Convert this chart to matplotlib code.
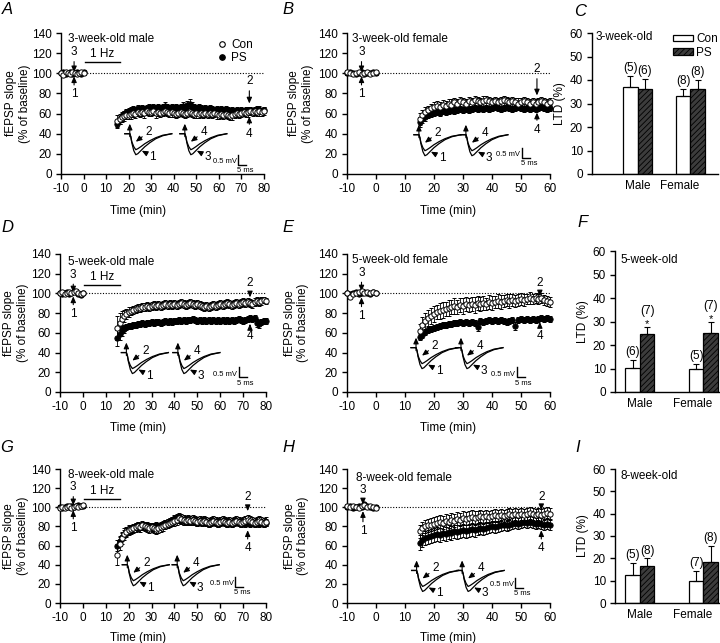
import matplotlib.pyplot as plt
from matplotlib.patches import Patch
from matplotlib.lines import Line2D

plt.rcParams['font.family'] = ['Liberation Sans', 'DejaVu Sans']
plt.rcParams['hatch.linewidth'] = 0.6
plt.rcParams['axes.unicode_minus'] = False

W, H = 720, 643

# time points (min)
t_base = list(range(-10, 1))
t_post80 = list(range(15, 81))
t_post60 = list(range(15, 61))
base_sem = [2, 1, 2, 1, 1, 2, 1, 2, 1, 1, 2]

# A: 3-week-old male
A_con_base = [100, 98, 101, 100, 99, 101, 100, 99, 100, 101, 100]
A_ps_base = [100, 101, 99, 100, 101, 99, 100, 101, 100, 99, 101]
A_con = [53, 55, 57, 58, 59, 59, 60, 61, 60, 62,
         61, 62, 61, 63, 62, 62, 63, 61, 62, 61,
         62, 63, 62, 61, 62, 61, 60, 61, 62, 61,
         60, 61, 62, 61, 60, 61, 60, 61, 60, 61,
         60, 61, 60, 61, 60, 59, 60, 59, 60, 59,
         58, 59, 60, 61, 60, 61, 62, 61, 62, 63,
         62, 63, 62, 63, 62, 63]
A_ps = [50, 54, 58, 60, 62, 63, 64, 65, 64, 66,
        65, 66, 65, 66, 67, 66, 67, 66, 67, 66,
        67, 68, 67, 66, 67, 66, 67, 66, 67, 68,
        67, 69, 70, 68, 67, 66, 67, 66, 65, 66,
        65, 66, 65, 64, 65, 64, 65, 64, 65, 64,
        63, 64, 63, 64, 63, 64, 63, 64, 63, 64,
        63, 64, 65, 64, 63, 64]
A_con_sem = [6, 5, 5, 5, 4, 4, 5, 4, 4, 4,
             4, 4, 5, 4, 4, 4, 4, 5, 4, 4,
             4, 4, 4, 4, 5, 4, 4, 4, 4, 4,
             4, 4, 4, 4, 4, 5, 4, 4, 4, 4,
             4, 4, 4, 4, 5, 4, 4, 4, 4, 4,
             4, 5, 4, 4, 4, 4, 4, 4, 5, 4,
             4, 4, 4, 5, 4, 4]
A_ps_sem = [4, 4, 3, 3, 3, 3, 3, 3, 3, 3,
            3, 3, 3, 3, 3, 3, 3, 3, 3, 3,
            3, 3, 3, 3, 3, 3, 3, 3, 3, 3,
            3, 3, 4, 3, 3, 3, 3, 3, 3, 3,
            3, 3, 3, 3, 3, 3, 3, 3, 3, 3,
            3, 3, 3, 3, 3, 3, 3, 3, 3, 3,
            3, 3, 3, 3, 3, 3]

# B: 3-week-old female
B_con_base = [101, 100, 99, 100, 101, 99, 100, 101, 99, 100, 101]
B_ps_base = [100, 101, 100, 99, 100, 101, 99, 100, 100, 101, 100]
B_con = [55, 59, 62, 64, 66, 67, 68, 67, 69, 68,
         70, 69, 71, 70, 72, 71, 70, 72, 71, 73,
         72, 71, 72, 73, 72, 71, 72, 71, 72, 73,
         72, 71, 72, 71, 70, 71, 72, 71, 70, 71,
         70, 71, 72, 71, 70, 71]
B_ps = [52, 55, 57, 59, 60, 61, 62, 61, 63, 62,
        63, 64, 63, 64, 65, 64, 65, 64, 65, 66,
        65, 66, 65, 66, 65, 66, 67, 66, 65, 66,
        67, 66, 65, 66, 67, 66, 65, 66, 65, 66,
        65, 66, 67, 66, 65, 66]
B_con_sem = [6, 5, 5, 4, 4, 4, 4, 4, 4, 4,
             4, 5, 4, 4, 4, 4, 4, 4, 4, 4,
             4, 4, 5, 4, 4, 4, 4, 4, 4, 4,
             4, 4, 4, 4, 5, 4, 4, 4, 4, 4,
             4, 4, 4, 4, 4, 4]
B_ps_sem = [5, 4, 4, 3, 3, 3, 3, 3, 3, 3,
            3, 3, 3, 3, 3, 3, 3, 3, 3, 3,
            3, 3, 3, 3, 3, 3, 3, 3, 3, 3,
            3, 3, 3, 3, 3, 3, 3, 3, 3, 3,
            3, 3, 3, 3, 3, 3]

# D: 5-week-old male
D_con_base = [100, 101, 99, 100, 101, 100, 101, 102, 100, 99, 100]
D_ps_base = [100, 99, 100, 101, 99, 100, 102, 101, 99, 98, 100]
D_con = [65, 70, 74, 77, 79, 81, 82, 83, 84, 85,
         85, 86, 86, 87, 86, 87, 88, 87, 88, 87,
         88, 89, 88, 89, 88, 89, 88, 89, 90, 89,
         88, 89, 90, 89, 88, 89, 88, 87, 86, 87,
         86, 87, 88, 87, 88, 89, 88, 89, 90, 89,
         88, 89, 90, 89, 90, 91, 90, 91, 90, 89,
         91, 92, 91, 92, 93, 92]
D_ps = [55, 59, 62, 64, 66, 67, 67, 68, 68, 69,
        69, 70, 69, 70, 70, 71, 70, 71, 71, 70,
        71, 72, 71, 72, 71, 72, 72, 73, 72, 73,
        72, 73, 73, 74, 73, 72, 73, 72, 73, 72,
        73, 72, 73, 72, 73, 72, 73, 72, 73, 72,
        73, 72, 73, 74, 73, 72, 73, 74, 75, 74,
        75, 70, 69, 71, 72, 72]
D_con_sem = [12, 10, 8, 6, 5, 5, 4, 4, 4, 4,
             4, 4, 4, 4, 4, 4, 4, 4, 4, 4,
             4, 4, 4, 4, 4, 4, 4, 4, 4, 4,
             4, 4, 4, 4, 4, 4, 4, 4, 4, 4,
             4, 4, 4, 4, 4, 4, 4, 4, 4, 4,
             4, 4, 4, 4, 4, 4, 4, 4, 4, 4,
             4, 4, 4, 4, 3, 3]
D_ps_sem = [8, 6, 5, 4, 3, 3, 3, 3, 3, 3,
            3, 3, 3, 3, 3, 3, 3, 3, 3, 3,
            3, 3, 3, 3, 3, 3, 3, 3, 3, 3,
            3, 3, 3, 3, 3, 3, 3, 3, 3, 3,
            3, 3, 3, 3, 3, 3, 3, 3, 3, 3,
            3, 3, 3, 3, 3, 3, 3, 3, 3, 3,
            3, 4, 4, 3, 3, 3]

# E: 5-week-old female
E_con_base = [100, 96, 99, 100, 101, 102, 100, 101, 100, 101, 100]
E_ps_base = [100, 99, 100, 101, 99, 100, 101, 100, 99, 101, 100]
E_con = [62, 68, 72, 75, 77, 79, 81, 82, 83, 84,
         85, 86, 87, 86, 88, 87, 89, 88, 89, 88,
         90, 89, 90, 89, 91, 90, 91, 92, 91, 92,
         93, 92, 93, 92, 93, 94, 93, 94, 95, 94,
         95, 94, 95, 93, 92, 91]
E_ps = [56, 58, 61, 63, 64, 65, 66, 67, 68, 68,
        69, 69, 70, 70, 71, 70, 71, 70, 71, 70,
        66, 72, 71, 72, 73, 72, 73, 72, 73, 72,
        71, 72, 73, 67, 73, 74, 73, 74, 73, 74,
        73, 74, 75, 74, 75, 74]
E_con_sem = [7, 8, 8, 8, 8, 8, 7, 8, 8, 7,
             8, 7, 8, 7, 7, 8, 7, 7, 7, 8,
             7, 7, 7, 6, 7, 7, 6, 7, 7, 6,
             6, 7, 6, 6, 6, 6, 6, 5, 6, 5,
             5, 5, 5, 5, 5, 5]
E_ps_sem = [3, 3, 3, 3, 3, 3, 3, 3, 3, 3,
            3, 3, 3, 3, 3, 3, 3, 3, 3, 3,
            4, 3, 3, 3, 3, 3, 3, 3, 3, 3,
            3, 3, 3, 4, 3, 3, 3, 3, 3, 3,
            3, 3, 3, 3, 3, 3]

# G: 8-week-old male
G_con_base = [99, 100, 99, 100, 101, 99, 100, 101, 100, 101, 102]
G_ps_base = [100, 99, 100, 101, 100, 101, 100, 101, 102, 101, 101]
G_con = [50, 62, 68, 72, 74, 76, 77, 78, 79, 80,
         79, 81, 80, 79, 78, 79, 78, 77, 78, 79,
         80, 82, 83, 84, 85, 86, 87, 89, 88, 87,
         86, 87, 86, 87, 86, 85, 86, 85, 86, 85,
         84, 85, 86, 85, 84, 85, 86, 85, 84, 85,
         84, 85, 86, 85, 84, 85, 86, 87, 86, 85,
         84, 85, 86, 85, 84, 85]
G_ps = [60, 65, 69, 72, 74, 76, 77, 78, 80, 81,
        80, 81, 80, 81, 80, 79, 80, 81, 80, 81,
        82, 83, 84, 85, 86, 87, 89, 88, 87, 86,
        85, 86, 85, 86, 85, 84, 85, 84, 85, 84,
        83, 84, 85, 84, 83, 84, 85, 84, 83, 84,
        83, 84, 85, 84, 83, 84, 83, 84, 83, 84,
        83, 84, 83, 84, 83, 84]
G_con_sem = [10, 7, 6, 6, 5, 5, 5, 5, 5, 5,
             5, 5, 5, 5, 5, 5, 5, 5, 5, 5,
             5, 5, 5, 5, 5, 6, 5, 5, 5, 5,
             5, 5, 5, 5, 5, 5, 5, 5, 5, 5,
             5, 5, 5, 5, 5, 5, 5, 5, 5, 5,
             5, 5, 5, 5, 5, 5, 5, 5, 5, 5,
             5, 5, 5, 5, 5, 5]
G_ps_sem = [6, 5, 4, 4, 4, 4, 4, 4, 4, 4,
            4, 4, 4, 4, 4, 4, 4, 4, 4, 4,
            4, 4, 4, 4, 4, 4, 4, 4, 4, 4,
            4, 4, 4, 4, 4, 4, 4, 4, 4, 4,
            4, 4, 4, 4, 4, 4, 4, 4, 4, 4,
            4, 4, 4, 4, 4, 4, 4, 4, 4, 4,
            4, 4, 4, 4, 4, 4]

# H: 8-week-old female
H_con_base = [101, 100, 101, 100, 99, 101, 102, 100, 101, 100, 99]
H_ps_base = [100, 101, 99, 100, 101, 100, 103, 101, 100, 99, 100]
H_con = [75, 78, 80, 81, 82, 83, 84, 85, 84, 86,
         85, 87, 86, 88, 87, 89, 88, 89, 90, 89,
         90, 91, 90, 91, 90, 91, 92, 91, 92, 91,
         92, 93, 92, 93, 92, 93, 92, 93, 94, 93,
         92, 93, 92, 93, 94, 93]
H_ps = [63, 66, 68, 69, 70, 71, 72, 71, 73, 72,
        74, 73, 75, 74, 75, 76, 75, 76, 77, 76,
        77, 78, 77, 78, 79, 80, 79, 80, 81, 82,
        81, 82, 83, 84, 83, 84, 85, 84, 85, 84,
        83, 84, 83, 82, 83, 82]
H_con_sem = [7, 7, 7, 7, 7, 7, 7, 7, 7, 7,
             7, 7, 7, 7, 7, 7, 7, 7, 7, 7,
             6, 6, 6, 6, 6, 6, 6, 6, 6, 6,
             6, 6, 6, 6, 6, 6, 6, 6, 6, 6,
             6, 6, 6, 6, 6, 6]
H_ps_sem = [8, 7, 7, 7, 7, 7, 7, 7, 7, 7,
            7, 7, 7, 7, 7, 7, 7, 7, 7, 7,
            6, 6, 6, 6, 6, 6, 6, 6, 6, 6,
            6, 6, 6, 6, 6, 6, 6, 6, 6, 6,
            6, 6, 6, 6, 6, 6]

# LTD bar panels
sexes = ['Male', 'Female']
C_con, C_con_sem, C_con_n = [37.0, 33.0], [4.8, 3.2], ['(5)', '(8)']
C_ps, C_ps_sem, C_ps_n = [36.3, 36.3], [4.3, 3.6], ['(6)', '(8)']
F_con, F_con_sem, F_con_n = [10.4, 9.8], [3.2, 2.2], ['(6)', '(5)']
F_ps, F_ps_sem, F_ps_n = [24.5, 25.0], [3.0, 4.6], ['(7)', '(7)']
I_con, I_con_sem, I_con_n = [12.4, 10.0], [5.6, 4.4], ['(5)', '(7)']
I_ps, I_ps_sem, I_ps_n = [16.5, 18.2], [3.5, 7.3], ['(8)', '(8)']

# example fEPSP trace shape (pixel offsets from stimulus artifact)
tr_x = [-5, 0, 1, 2, 4, 6, 8, 11, 15, 20, 26, 33, 42]
tr_big = [0, 0, -3, -9, -17, -21, -20, -17, -13, -9, -5, -2, 0]
tr_small = [0, 0, -3, -8, -13, -16, -15, -13, -10, -7, -4, -1.5, 0]

ARROW = dict(arrowstyle='-|>,head_length=0.5,head_width=0.22', lw=0.8, color='k',
             mutation_scale=7, shrinkA=0.5, shrinkB=0)


def pos(left, top, w, h):
    return [left / W, 1 - (top + h) / H, w / W, h / H]


fig = plt.figure(figsize=(7.2, 6.43), dpi=100)


def style(ax):
    for s in ['top', 'right']:
        ax.spines[s].set_visible(False)
    for s in ['left', 'bottom']:
        ax.spines[s].set_linewidth(1.0)
    ax.tick_params(direction='out', length=3.5, width=1.0, labelsize=8.5, pad=3)


def px(ax, x, y, dx, dy):
    # data point plus pixel offset -> data coords
    bb = ax.get_position()
    x0, x1 = ax.get_xlim()
    y0, y1 = ax.get_ylim()
    return (x + dx * (x1 - x0) / (bb.width * W),
            y + dy * (y1 - y0) / (bb.height * H))


def traces(ax, x, y, lab_small, lab_big):
    xs = [px(ax, x, y, a, b)[0] for a, b in zip(tr_x, tr_big)]
    ax.plot(xs, [px(ax, x, y, a, b)[1] for a, b in zip(tr_x, tr_big)], 'k-', lw=0.9)
    ax.plot(xs, [px(ax, x, y, a, b)[1] for a, b in zip(tr_x, tr_small)], 'k-', lw=0.9)
    ax.annotate('', xy=px(ax, x, y, 0, 10), xytext=px(ax, x, y, 0, -3),
                arrowprops=dict(ARROW, shrinkA=0))
    ax.annotate(lab_small, xy=px(ax, x, y, 6, -8), xytext=px(ax, x, y, 19, 2),
                fontsize=8.5, ha='center', va='center', arrowprops=ARROW)
    ax.annotate(lab_big, xy=px(ax, x, y, 12, -17), xytext=px(ax, x, y, 23, -23),
                fontsize=8.5, ha='center', va='center', arrowprops=ARROW)


def scalebar(ax, x, y):
    xa, ya = px(ax, x, y, 0, 10)
    xb, yb = px(ax, x, y, 8, 0)
    ax.plot([x, x, xb], [ya, y, y], 'k-', lw=1.0)
    tx, ty = px(ax, x, y, -1.5, 3)
    ax.text(tx, ty, '0.5 mV', fontsize=5.5, ha='right', va='center')
    tx, ty = px(ax, x, y, 7, -6)
    ax.text(tx, ty, '5 ms', fontsize=5.5, ha='center', va='center')


def arrow_lab(ax, x, text_y, tip_y, lab):
    ax.annotate(lab, xy=(x, tip_y), xytext=(x, text_y), fontsize=8.5,
                ha='center', va='center', arrowprops=ARROW)


def series(ax, t, y, e, filled):
    ax.errorbar(t, y, yerr=e, fmt='o', ms=3.8, mfc='k' if filled else 'white',
                mec='k', mew=0.7, ecolor='k', elinewidth=0.6, capsize=1.3,
                capthick=0.6, clip_on=False, zorder=2 if filled else 3)


def time_panel(rect, tmax, t_post, con_b, ps_b, con, ps, con_e, ps_e, title,
               tr1, tr2, sb, a2, a4, a13, ylab_x, hz=None, legend=False,
               xlab_x=0.5):
    ax = fig.add_axes(rect)
    ax.set_xlim(-10, tmax)
    ax.set_ylim(0, 140)
    style(ax)
    ax.set_xticks(range(-10, tmax + 1, 10))
    ax.set_yticks(range(0, 141, 20))
    series(ax, t_base + t_post, ps_b + ps, base_sem + ps_e, True)
    series(ax, t_base + t_post, con_b + con, base_sem + con_e, False)
    ax.plot([0, tmax], [100, 100], color='k', ls=(0, (1, 1.5)), lw=0.8, zorder=1)
    ax.text(title[0], title[1], title[2], fontsize=8.5, ha='left', va='center')
    arrow_lab(ax, a13[0], a13[1], a13[2], '3')
    arrow_lab(ax, a13[0], a13[3], a13[4], '1')
    arrow_lab(ax, a2[0], a2[1], a2[2], '2')
    arrow_lab(ax, a2[0], a4[0], a4[1], '4')
    traces(ax, tr1[0], tr1[1], '2', '1')
    traces(ax, tr2[0], tr2[1], '4', '3')
    scalebar(ax, sb[0], sb[1])
    if hz is not None:
        ax.plot([0.6, 16], [hz, hz], 'k-', lw=1.0)
        ax.text(8.3, hz + 2, '1 Hz', fontsize=8.5, ha='center', va='bottom')
    if legend:
        h = [Line2D([], [], ls='', marker='o', ms=4, mfc='white', mec='k', mew=0.8),
             Line2D([], [], ls='', marker='o', ms=4, mfc='k', mec='k', mew=0.8)]
        ax.legend(h, ['Con', 'PS'], loc='upper left', bbox_to_anchor=(0.77, 0.96),
                  handlelength=0.8, handletextpad=0.4, labelspacing=0.1,
                  borderpad=0, borderaxespad=0, frameon=False, fontsize=8.5)
    ax.set_ylabel('fEPSP slope\n(% of baseline)', fontsize=8.5)
    ax.yaxis.set_label_coords(ylab_x, 0.5)
    ax.set_xlabel('Time (min)', fontsize=8.5)
    ax.xaxis.set_label_coords(xlab_x, -0.22)
    return ax


def bar_panel(rect, xlim, w, con, con_e, con_n, ps, ps_e, ps_n, title, tx, ty,
              fem_x, legend=False, stars=False):
    ax = fig.add_axes(rect)
    ax.set_xlim(*xlim)
    ax.set_ylim(0, 60)
    style(ax)
    ax.set_yticks(range(0, 61, 10))
    ax.set_xticks([0, fem_x])
    ax.set_xticklabels(sexes, fontsize=8.5)
    ax.tick_params(axis='x', length=0, pad=4)
    xc = [i - w / 2 for i in range(2)]
    xp = [i + w / 2 for i in range(2)]
    ax.bar(xc, con, w, yerr=[[0, 0], con_e], color='white', edgecolor='k', lw=0.9,
           error_kw=dict(elinewidth=0.8, capsize=2, capthick=0.8), zorder=2)
    ax.bar(xp, ps, w, yerr=[[0, 0], ps_e], color='#3c3c3c', edgecolor='k', lw=0.9,
           hatch='//////', error_kw=dict(elinewidth=0.8, capsize=2, capthick=0.8),
           zorder=2)
    for i in range(2):
        ax.text(xc[i], con[i] + con_e[i] + 0.8, con_n[i], fontsize=8.5,
                ha='center', va='bottom')
        top = ps[i] + ps_e[i] + 0.8
        if stars:
            ax.text(xp[i], top - 1.5, '*', fontsize=8, ha='center', va='bottom')
            top += 3.5
        ax.text(xp[i], top, ps_n[i], fontsize=8.5, ha='center', va='bottom')
    ax.text(tx, ty, title, fontsize=8.5, ha='left', va='center')
    ax.set_ylabel('LTD (%)', fontsize=8.5, labelpad=3)
    if legend:
        h = [Patch(facecolor='white', edgecolor='k', lw=0.9),
             Patch(facecolor='#3c3c3c', edgecolor='k', lw=0.9, hatch='//////')]
        ax.legend(h, ['Con', 'PS'], loc='upper right', bbox_to_anchor=(1.0, 1.0),
                  handlelength=1.7, handleheight=0.45, handletextpad=0.3,
                  labelspacing=0.15, borderpad=0, borderaxespad=0,
                  frameon=False, fontsize=8.5)
    return ax


# row 1
time_panel(pos(61, 33, 203, 141), 80, t_post80, A_con_base, A_ps_base, A_con, A_ps,
           A_con_sem, A_ps_sem, (-7, 134, '3-week-old male'),
           (20.5, 40), (44.9, 40), (68.5, 9), (73.5, 92, 70), (40, 57),
           (-4.2, 121, 101, 79, 97), -0.15, hz=111, legend=True, xlab_x=0.38)
time_panel(pos(347, 33, 203, 141), 60, t_post60, B_con_base, B_ps_base, B_con, B_ps,
           B_con_sem, B_ps_sem, (-8.3, 134, '3-week-old female'),
           (14.8, 39), (31, 39), (50.3, 16), (55.5, 104, 78), (44, 61),
           (-5, 121, 101, 79, 97), -0.165)
bar_panel(pos(592, 33, 126, 141), (-0.86, 1.52), 0.275, C_con, C_con_sem, C_con_n,
          C_ps, C_ps_sem, C_ps_n, '3-week-old', -0.8, 58.5, 0.8, legend=True)

# row 2
time_panel(pos(60, 254, 206, 138), 80, t_post80, D_con_base, D_ps_base, D_con, D_ps,
           D_con_sem, D_ps_sem, (-6.5, 132, '5-week-old male'),
           (19, 40), (41.5, 40), (68, 15), (73, 111, 96), (57, 69),
           (-4.2, 119, 101, 79, 97), -0.15, hz=108.5, xlab_x=0.38)
time_panel(pos(347, 254, 203, 138), 60, t_post60, E_con_base, E_ps_base, E_con, E_ps,
           E_con_sem, E_ps_sem, (-8.3, 134, '5-week-old female'),
           (13.8, 45), (29.3, 45), (48.5, 15), (56.5, 111, 97), (57, 71),
           (-5, 121, 102, 77, 96), -0.185)
bar_panel(pos(615, 251, 105, 141), (-0.39, 1.26), 0.23, F_con, F_con_sem, F_con_n,
          F_ps, F_ps_sem, F_ps_n, '5-week-old', -0.3, 56, 0.83, stars=True)

# row 3
time_panel(pos(60, 469, 206, 134), 80, t_post80, G_con_base, G_ps_base, G_con, G_ps,
           G_con_sem, G_ps_sem, (-6.5, 134, '8-week-old male'),
           (19.4, 40), (41.2, 40), (66.5, 17), (72, 111, 96), (57, 76),
           (-4.2, 121, 102, 78, 97), -0.15, hz=108.7, xlab_x=0.38)
time_panel(pos(347, 469, 203, 134), 60, t_post60, H_con_base, H_ps_base, H_con, H_ps,
           H_con_sem, H_ps_sem, (-6.9, 131, '8-week-old female'),
           (14, 34), (29.7, 34), (48, 16), (57, 111, 97), (57, 76),
           (-4.5, 118, 103, 75, 96), -0.185)
bar_panel(pos(615, 469, 105, 134), (-0.39, 1.26), 0.23, I_con, I_con_sem, I_con_n,
          I_ps, I_ps_sem, I_ps_n, '8-week-old', -0.3, 57, 0.83)

# panel letters
for lab, x, y in [('A', 7, 10), ('B', 288, 9), ('C', 580, 12),
                  ('D', 7, 227), ('E', 288, 227), ('F', 583, 223),
                  ('G', 7, 448), ('H', 288, 448), ('I', 578, 448)]:
    fig.text(x / W, 1 - y / H, lab, fontsize=12, style='italic', ha='center', va='center')

fig.savefig('out.png', dpi=100)
